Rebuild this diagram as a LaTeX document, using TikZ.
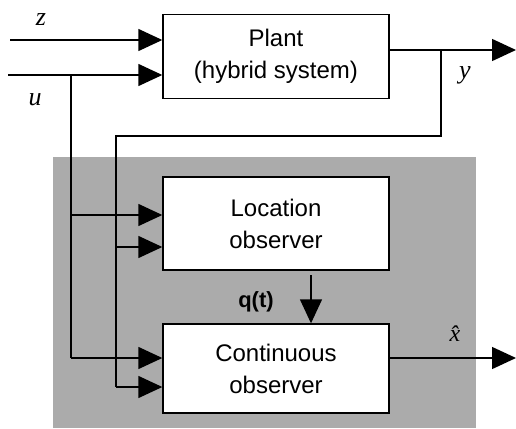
\documentclass[tikz,border=0pt]{standalone}
\usepackage{fontspec}
\setmainfont{Liberation Serif}
\setsansfont{Liberation Sans}
\usetikzlibrary{arrows.meta,calc}
\begin{document}
\begin{tikzpicture}[x=1pt,y=-1pt,
  box/.style={draw, line width=1.4pt, fill=white, minimum width=226pt, inner sep=0pt,
    font=\sffamily\fontsize{24}{32}\selectfont, align=center},
  arr/.style={-{Triangle[length=24pt,width=22pt]}, line width=1.4pt},
  ln/.style={line width=1.4pt},
  lbl/.style={font=\itshape\fontsize{26}{28}\selectfont, inner sep=0pt}]
\useasboundingbox (0,0) rectangle (516,428);
\fill[black!33] (53,157) rectangle (476,428);
\node[box, minimum height=84pt] (plant) at (276,56.5) {Plant\\(hybrid system)};
\node[box, minimum height=93pt] (loc) at (276,223.5) {Location\\observer};
\node[box, minimum height=89pt] (cont) at (276,368.5) {Continuous\\observer};
\coordinate (zs) at (10,40);
\coordinate (us) at (8,75);
\coordinate (ub) at (71,75);
\coordinate (uc) at (71,358);
\coordinate (ul) at (71,215);
\coordinate (yb) at (441,50);
\coordinate (yo) at (516,50);
\coordinate (yd) at (441,136);
\coordinate (yl) at (116,136);
\coordinate (yc) at (116,387);
\coordinate (yloc) at (116,247);
\coordinate (xo) at (516,358);
\coordinate (qs) at (311,275);
% plant inputs
\draw[arr] (zs) -- (zs -| plant.west);
\draw[arr] (us) -- (us -| plant.west);
% plant output
\draw[arr] (plant.east |- yo) -- (yo);
\draw[ln] (yb) -- (yd) -- (yl) -- (yc);
\draw[arr] (yloc) -- (yloc -| loc.west);
\draw[arr] (yc) -- (yc -| cont.west);
% u branch
\draw[ln] (ub) -- (uc);
\draw[arr] (uc) -- (uc -| cont.west);
\draw[arr] (ul) -- (ul -| loc.west);
% q(t)
\draw[arr] (qs) -- (qs |- cont.north);
\node[font=\sffamily\bfseries\fontsize{22}{24}\selectfont, inner sep=0pt] (q) at (256,302) {q(t)};
% output
\draw[arr] (cont.east |- xo) -- (xo);
% labels
\node[lbl] (zl) at (41,20) {z};
\node[lbl] (ulb) at (35,100) {u};
\node[lbl] (ylb) at (465,75) {y};
\node[lbl, font=\itshape\fontsize{24}{26}\selectfont] (xl) at (455,334) {\^{x}};
\end{tikzpicture}
\end{document}
